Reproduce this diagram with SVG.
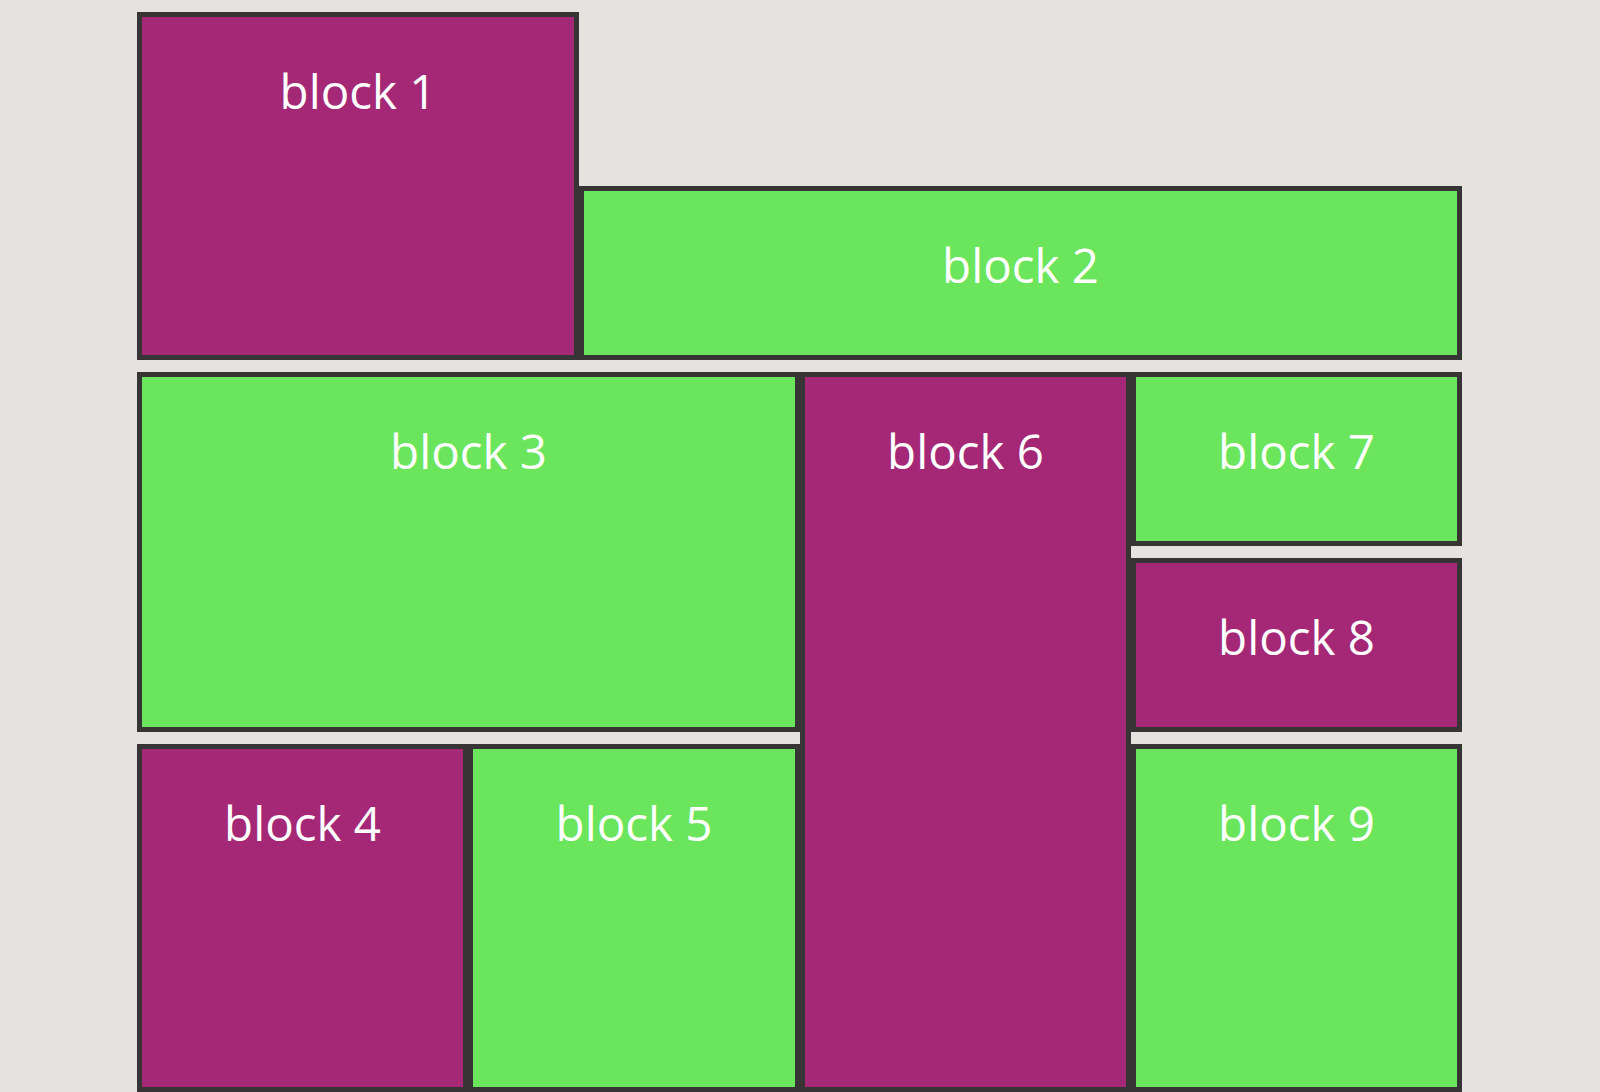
<svg xmlns="http://www.w3.org/2000/svg" width="1600" height="1092" viewBox="0 0 1600 1092">
  <style>
    .blk { stroke: #363434; stroke-width: 5; }
    .p { fill: #a52877; }
    .g { fill: #6be55c; }
    .lbl { fill: #ffffff; font-family: "Open Sans", "Noto Sans", "DejaVu Sans", sans-serif; font-size: 47.5px; font-weight: 500; text-anchor: middle; }
  </style>
  <rect x="0" y="0" width="1600" height="1092" fill="#e6e2e0"/>
  <g id="connectors"/>
  <g id="block1">
    <rect class="blk p" x="139.5" y="14.5" width="437" height="343"/>
    <text class="lbl" x="358" y="109">block 1</text>
  </g>
  <g id="block2">
    <rect class="blk g" x="581.5" y="188.5" width="878" height="169"/>
    <text class="lbl" x="1020.5" y="283">block 2</text>
  </g>
  <g id="block3">
    <rect class="blk g" x="139.5" y="374.5" width="658" height="355"/>
    <text class="lbl" x="468.5" y="469">block 3</text>
  </g>
  <g id="block4">
    <rect class="blk p" x="139.5" y="746.5" width="326" height="343"/>
    <text class="lbl" x="302.5" y="841">block 4</text>
  </g>
  <g id="block5">
    <rect class="blk g" x="470.5" y="746.5" width="327" height="343"/>
    <text class="lbl" x="634" y="841">block 5</text>
  </g>
  <g id="block6">
    <rect class="blk p" x="802.5" y="374.5" width="326" height="715"/>
    <text class="lbl" x="965.5" y="469">block 6</text>
  </g>
  <g id="block7">
    <rect class="blk g" x="1133.5" y="374.5" width="326" height="169"/>
    <text class="lbl" x="1296.5" y="469">block 7</text>
  </g>
  <g id="block8">
    <rect class="blk p" x="1133.5" y="560.5" width="326" height="169"/>
    <text class="lbl" x="1296.5" y="655">block 8</text>
  </g>
  <g id="block9">
    <rect class="blk g" x="1133.5" y="746.5" width="326" height="343"/>
    <text class="lbl" x="1296.5" y="841">block 9</text>
  </g>
</svg>
